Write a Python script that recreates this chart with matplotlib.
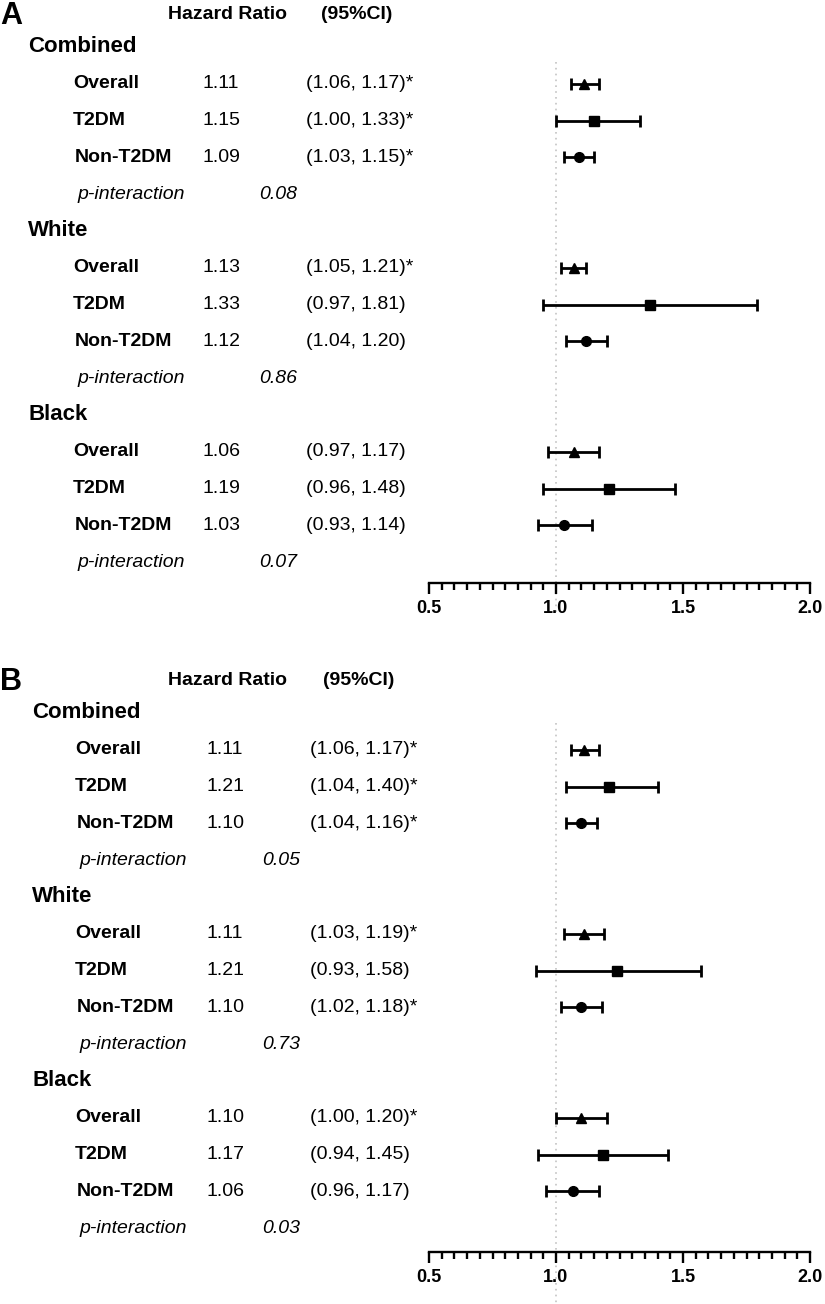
import numpy as np
import matplotlib
matplotlib.use("Agg")
import matplotlib.pyplot as plt
from matplotlib.ticker import MultipleLocator, FormatStrFormatter
from matplotlib.transforms import blended_transform_factory

plt.rcParams['font.family'] = ['Liberation Sans', 'DejaVu Sans']

# data
groups = ["Combined", "White", "Black"]
subgroups = ["Overall", "T2DM", "Non-T2DM"]
markers = ["^", "s", "o"]

# panel A
hr_text_a = ["1.11", "1.15", "1.09", "1.13", "1.33", "1.12", "1.06", "1.19", "1.03"]
ci_text_a = ["(1.06, 1.17)*", "(1.00, 1.33)*", "(1.03, 1.15)*",
             "(1.05, 1.21)*", "(0.97, 1.81)", "(1.04, 1.20)",
             "(0.97, 1.17)", "(0.96, 1.48)", "(0.93, 1.14)"]
p_text_a = ["0.08", "0.86", "0.07"]
# positions of the marks as drawn in the figure
est_a = [1.11, 1.15, 1.09, 1.07, 1.37, 1.12, 1.07, 1.21, 1.03]
lo_a = [1.06, 1.00, 1.03, 1.02, 0.95, 1.04, 0.97, 0.95, 0.93]
hi_a = [1.17, 1.33, 1.15, 1.12, 1.79, 1.20, 1.17, 1.47, 1.14]

# panel B
hr_text_b = ["1.11", "1.21", "1.10", "1.11", "1.21", "1.10", "1.10", "1.17", "1.06"]
ci_text_b = ["(1.06, 1.17)*", "(1.04, 1.40)*", "(1.04, 1.16)*",
             "(1.03, 1.19)*", "(0.93, 1.58)", "(1.02, 1.18)*",
             "(1.00, 1.20)*", "(0.94, 1.45)", "(0.96, 1.17)"]
p_text_b = ["0.05", "0.73", "0.03"]
est_b = [1.11, 1.21, 1.10, 1.11, 1.24, 1.10, 1.10, 1.185, 1.065]
lo_b = [1.06, 1.04, 1.04, 1.03, 0.92, 1.02, 1.00, 0.93, 0.96]
hi_b = [1.17, 1.40, 1.16, 1.19, 1.57, 1.18, 1.20, 1.44, 1.17]

W, H = 825, 1304
fig = plt.figure(figsize=(W / 100, H / 100), dpi=100)

ROW = 36.8  # px between rows


def panel(letter, row0, axis_px, top_px, line_end_px, hr_text, ci_text, p_text,
          est, lo, hi, xc):
    # xc: column x positions in px (letter, group, label, hr, ci, plabel, pval, hdr1, hdr2)
    ybot = (axis_px - row0) / ROW
    ytop = (top_px - row0) / ROW
    ax = fig.add_axes([429 / W, 1 - axis_px / H, (810 - 429) / W, (axis_px - top_px) / H])
    ax.set_xlim(0.5, 2.0)
    ax.set_ylim(ybot, ytop)
    for s in ["top", "right", "left"]:
        ax.spines[s].set_visible(False)
    ax.spines["bottom"].set_linewidth(1.7)
    ax.set_yticks([])
    ax.xaxis.set_major_locator(MultipleLocator(0.5))
    ax.xaxis.set_minor_locator(MultipleLocator(0.05))
    ax.xaxis.set_major_formatter(FormatStrFormatter('%.1f'))
    ax.tick_params(axis='x', which='major', length=8, width=1.7, labelsize=13, pad=4)
    ax.tick_params(axis='x', which='minor', length=5, width=1.7)
    for lab in ax.get_xticklabels():
        lab.set_fontweight('bold')

    # reference line at 1.0
    ax.plot([1.0, 1.0], [ytop, (line_end_px - row0) / ROW],
            ls=(0, (1, 2.5)), color="#c4c4c4", lw=1.2, clip_on=False, zorder=0)

    tr = blended_transform_factory(fig.transFigure, ax.transData)
    fx = lambda px: px / W

    ax.text(fx(xc[0]), -0.85, letter, transform=tr, fontsize=22, fontweight='bold',
            ha='left', va='center')
    ax.text(fx(xc[7]), -0.87, "Hazard Ratio", transform=tr, fontsize=14,
            fontweight='bold', ha='left', va='center')
    ax.text(fx(xc[8]), -0.87, "(95%CI)", transform=tr, fontsize=14,
            fontweight='bold', ha='left', va='center')

    for g, grp in enumerate(groups):
        r = g * 5
        ax.text(fx(xc[1]), r, grp, transform=tr, fontsize=16, fontweight='bold',
                ha='left', va='center')
        for k, sub in enumerate(subgroups):
            i = g * 3 + k
            rr = r + 1 + k
            lx = xc[2] + (2 if sub == "Non-T2DM" else 0)
            ax.text(fx(lx), rr, sub, transform=tr, fontsize=14, fontweight='bold',
                    ha='left', va='center')
            ax.text(fx(xc[3]), rr, hr_text[i], transform=tr, fontsize=14,
                    ha='left', va='center')
            ax.text(fx(xc[4]), rr, ci_text[i], transform=tr, fontsize=14,
                    ha='left', va='center')
            ax.errorbar(est[i], rr, xerr=[[est[i] - lo[i]], [hi[i] - est[i]]],
                        fmt=markers[k], color='black', ms=7 if k != 0 else 7.5,
                        elinewidth=2, capsize=4.2, capthick=2)
        ax.text(fx(xc[5]), r + 4, "p-interaction", transform=tr, fontsize=14,
                style='italic', ha='left', va='center')
        ax.text(fx(xc[6]), r + 4, p_text[g], transform=tr, fontsize=14,
                style='italic', ha='left', va='center')
    return ax


panel("A", 47, 583, 62, 612, hr_text_a, ci_text_a, p_text_a, est_a, lo_a, hi_a,
      [0, 28, 73, 202, 306, 77, 259, 168, 321])
panel("B", 713, 1252, 723, 1304, hr_text_b, ci_text_b, p_text_b, est_b, lo_b, hi_b,
      [0, 32, 75, 207, 310, 79, 262, 168, 323])

fig.savefig("out.png", dpi=100)
